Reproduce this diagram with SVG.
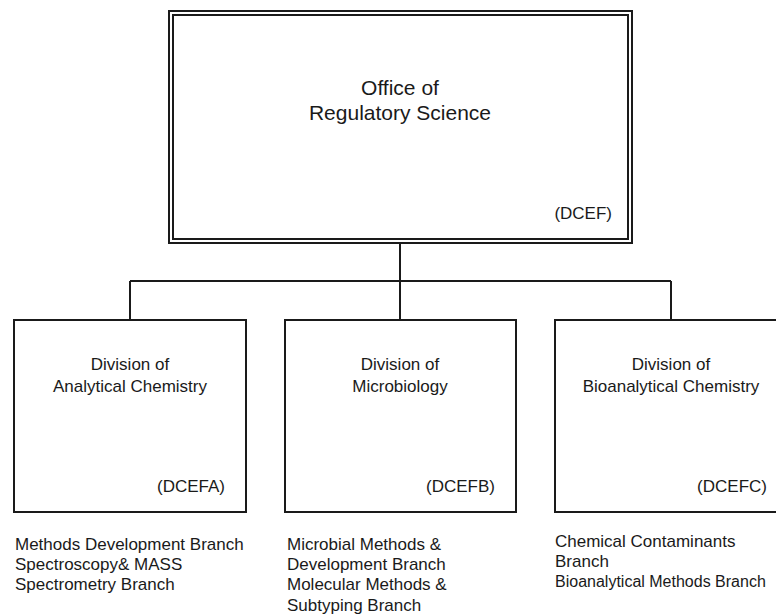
<svg xmlns="http://www.w3.org/2000/svg" width="776" height="616" viewBox="0 0 776 616">
<style>
.box{fill:#fff;stroke:#1a1a1a;stroke-width:2}
.ln{fill:none;stroke:#1a1a1a;stroke-width:2}
text{font-family:"Liberation Sans",Arial,sans-serif;fill:#1a1a1a}
.t1{font-size:21px}
.t2{font-size:17px}
.c{text-anchor:middle}
.r{text-anchor:end}
.b{font-size:17px}
</style>
<rect width="776" height="616" fill="#fff"/>
<g id="connectors">
<path class="ln" d="M400 243V281M130 281H671M130 281V320M400 281V320M671 281V320"/>
</g>
<g id="office">
<rect class="box" x="169" y="11" width="463" height="232"/>
<rect class="box" x="173" y="15" width="455" height="224"/>
<text class="t1 c" x="400" y="95">Office of</text>
<text class="t1 c" x="400" y="120">Regulatory Science</text>
<text class="b r" x="612" y="219">(DCEF)</text>
</g>
<g id="dcefa">
<rect class="box" x="14" y="320" width="232" height="192"/>
<text class="t2 c" x="130" y="370">Division of</text>
<text class="t2 c" x="130" y="392">Analytical Chemistry</text>
<text class="b r" x="225" y="492">(DCEFA)</text>
</g>
<g id="dcefb">
<rect class="box" x="285" y="320" width="231" height="192"/>
<text class="t2 c" x="400" y="370">Division of</text>
<text class="t2 c" x="400" y="392">Microbiology</text>
<text class="b r" x="495" y="492">(DCEFB)</text>
</g>
<g id="dcefc">
<rect class="box" x="555" y="320" width="232" height="192"/>
<text class="t2 c" x="671" y="370">Division of</text>
<text class="t2 c" x="671" y="392">Bioanalytical Chemistry</text>
<text class="b r" x="767" y="492">(DCEFC)</text>
</g>
<g id="branches-a">
<text class="b" x="15" y="550">Methods Development Branch</text>
<text class="b" x="15" y="570">Spectroscopy&amp; MASS</text>
<text class="b" x="15" y="590">Spectrometry Branch</text>
</g>
<g id="branches-b">
<text class="b" x="287" y="550">Microbial Methods &amp;</text>
<text class="b" x="287" y="570">Development Branch</text>
<text class="b" x="287" y="590">Molecular Methods &amp;</text>
<text class="b" x="287" y="611">Subtyping Branch</text>
</g>
<g id="branches-c">
<text class="b" x="555" y="547">Chemical Contaminants</text>
<text class="b" x="555" y="567">Branch</text>
<text x="555" y="587" font-size="16">Bioanalytical Methods Branch</text>
</g>
</svg>
